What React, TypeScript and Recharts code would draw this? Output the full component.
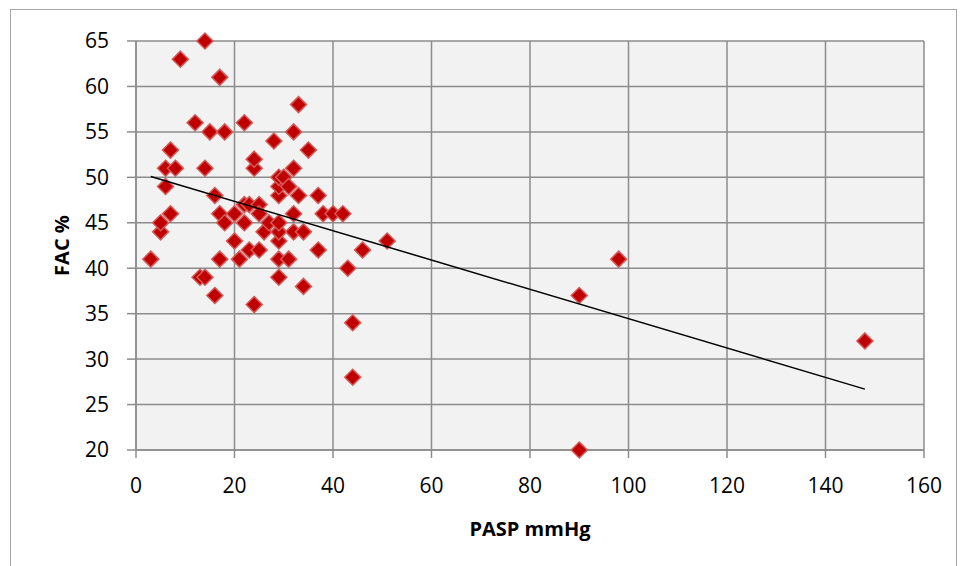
import { ScatterChart, Scatter, XAxis, YAxis, CartesianGrid } from "recharts";

// PASP (mmHg) and FAC (%) pairs
const paspValues = [
  3, 5, 5, 6, 6, 7, 7, 8, 9, 12, 13, 14, 14, 14, 15, 16, 16, 17, 17, 17,
  18, 18, 20, 20, 21, 22, 22, 22, 23, 23, 24, 24, 24, 25, 25, 25, 26, 27, 28, 29,
  29, 29, 29, 29, 29, 29, 29, 30, 31, 31, 32, 32, 32, 32, 33, 33, 34, 34, 35, 37,
  37, 38, 40, 42, 43, 44, 44, 46, 51, 90, 90, 98, 148,
];
const facValues = [
  41, 44, 45, 49, 51, 46, 53, 51, 63, 56, 39, 39, 65, 51, 55, 37, 48, 46, 41, 61,
  45, 55, 43, 46, 41, 56, 45, 47, 47, 42, 51, 52, 36, 47, 46, 42, 44, 45, 54, 39,
  41, 43, 44, 45, 48, 49, 50, 50, 41, 49, 55, 51, 46, 44, 58, 48, 44, 38, 53, 48,
  42, 46, 46, 46, 40, 34, 28, 42, 43, 37, 20, 41, 32,
];

// linear trendline end points
const trendX = [3, 148];
const trendY = [50.1, 26.7];

const xTicks = [0, 20, 40, 60, 80, 100, 120, 140, 160];
const yTicks = [20, 25, 30, 35, 40, 45, 50, 55, 60, 65];

const points = paspValues.map((x, i) => ({ x, y: facValues[i] }));
const trend = trendX.map((x, i) => ({ x, y: trendY[i] }));

const GRID = "#8c8c8c";
const FONT = "'Open Sans', 'Liberation Sans', sans-serif";

function Diamond(props: any) {
  const { cx, cy } = props;
  const r = 8;
  return (
    <path
      d={`M${cx},${cy - r}L${cx + r},${cy}L${cx},${cy + r}L${cx - r},${cy}Z`}
      fill="#c00000"
      stroke="#d45a5a"
      strokeWidth={1.5}
    />
  );
}

const NoDot = () => <g />;

export default function App() {
  return (
    <div style={{ position: "absolute", left: 0, top: 0, width: 960, height: 566, background: "#fff", overflow: "hidden" }}>
      <div
        style={{
          position: "absolute",
          left: 10,
          top: 9,
          width: 947,
          height: 620,
          border: "1.5px solid #a6a6a6",
          boxSizing: "border-box",
        }}
      />
      <ScatterChart
        width={960}
        height={566}
        margin={{ top: 41, right: 36, bottom: 0, left: 0 }}
        style={{ position: "absolute", left: 0, top: 0 }}
      >
        <CartesianGrid stroke={GRID} strokeWidth={1.5} fill="#f2f2f2" fillOpacity={1} />
        <XAxis
          type="number"
          dataKey="x"
          domain={[0, 160]}
          ticks={xTicks}
          interval={0}
          height={116}
          tickSize={8}
          tickMargin={20}
          axisLine={{ stroke: GRID, strokeWidth: 1.5 }}
          tickLine={{ stroke: GRID, strokeWidth: 1.5 }}
          tick={{ fill: "#000", fontSize: 21, fontFamily: FONT }}
          label={{
            content: (p: any) => {
              const vb = p.viewBox;
              return (
                <text
                  x={vb.x + vb.width / 2}
                  y={vb.y + 86}
                  textAnchor="middle"
                  fontFamily={FONT}
                  fontWeight="bold"
                  fontSize={20}
                  fill="#000"
                >
                  PASP mmHg
                </text>
              );
            },
          }}
        />
        <YAxis
          type="number"
          dataKey="y"
          domain={[20, 65]}
          ticks={yTicks}
          interval={0}
          width={136}
          tickSize={9}
          tickMargin={18}
          axisLine={{ stroke: GRID, strokeWidth: 1.5 }}
          tickLine={{ stroke: GRID, strokeWidth: 1.5 }}
          tick={{ fill: "#000", fontSize: 21, fontFamily: FONT }}
          label={{
            content: (p: any) => {
              const vb = p.viewBox;
              const cy = vb.y + vb.height / 2;
              return (
                <text
                  x={69}
                  y={cy}
                  transform={`rotate(-90 69 ${cy})`}
                  textAnchor="middle"
                  fontFamily={FONT}
                  fontWeight="bold"
                  fontSize={20}
                  fill="#000"
                >
                  FAC %
                </text>
              );
            },
          }}
        />
        <Scatter data={points} shape={Diamond} isAnimationActive={false} />
        <Scatter
          data={trend}
          shape={NoDot}
          line={{ stroke: "#000", strokeWidth: 1.5 }}
          isAnimationActive={false}
        />
      </ScatterChart>
    </div>
  );
}
